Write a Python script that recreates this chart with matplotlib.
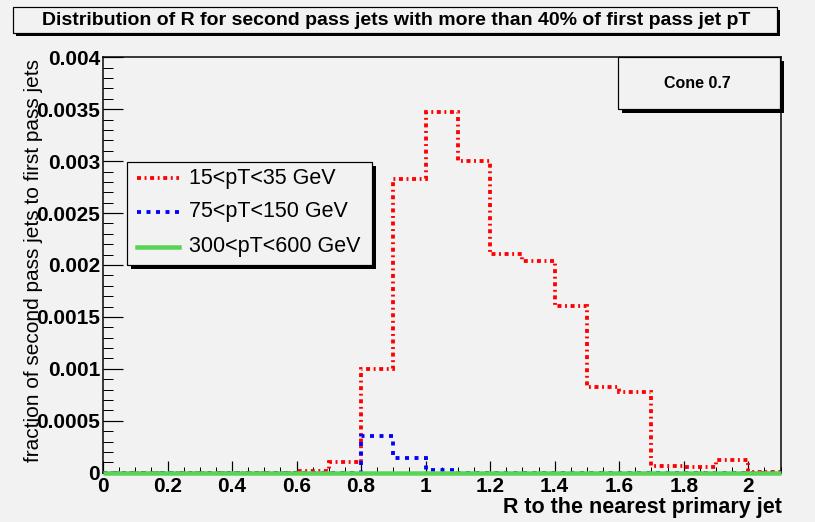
import numpy as np
import matplotlib
matplotlib.use("Agg")
import matplotlib.pyplot as plt
from matplotlib.patches import Rectangle
from matplotlib.lines import Line2D
from matplotlib.ticker import FixedLocator, MultipleLocator, FixedFormatter

# ---------------- data ----------------
bin_edges = np.round(np.arange(0, 2.1001, 0.1), 2)
red_vals = [0, 0, 0, 0, 0, 0, 0.00002, 0.0001, 0.001, 0.00283, 0.00347,
            0.0030, 0.00211, 0.00204, 0.00161, 0.00083, 0.00078, 0.000067,
            0.000052, 0.000122, 0.00001]
blue_vals = [0, 0, 0, 0, 0, 0, 0, 0, 0.00035, 0.000145, 0.00003,
             0, 0, 0, 0, 0, 0, 0, 0, 0, 0]
green_vals = [0] * 21
series_labels = ["15<pT<35 GeV", "75<pT<150 GeV", "300<pT<600 GeV"]
xtick_vals = [0, 0.2, 0.4, 0.6, 0.8, 1.0, 1.2, 1.4, 1.6, 1.8, 2.0]
xtick_labels = ["0", "0.2", "0.4", "0.6", "0.8", "1", "1.2", "1.4", "1.6", "1.8", "2"]
ytick_vals = [0, 0.0005, 0.001, 0.0015, 0.002, 0.0025, 0.003, 0.0035, 0.004]
ytick_labels = ["0", "0.0005", "0.001", "0.0015", "0.002", "0.0025", "0.003", "0.0035", "0.004"]
title = "Distribution of R for second pass jets with more than 40% of first pass jet pT"
xlabel = "R to the nearest primary jet"
ylabel = "fraction of second pass jets to first pass jets"
box_text = "Cone 0.7"

# ---------------- style ----------------
W, H = 815, 522
BG = "#f2f2f2"
RED = "#ff0000"
BLUE = "#0000ff"
GREEN = "#59d454"
FONT = ["Liberation Sans", "DejaVu Sans"]
plt.rcParams["font.family"] = FONT

fig = plt.figure(figsize=(W / 100, H / 100), dpi=100, facecolor=BG)

def fx(px):
    return px / W

def fy(py):
    return 1 - py / H

ax_l, ax_r, ax_t, ax_b = 103, 780.5, 57.3, 472.7
ax = fig.add_axes([fx(ax_l), fy(ax_b), fx(ax_r - ax_l), (ax_b - ax_t) / H])
ax.set_facecolor(BG)

px = 0.72  # one pixel in points
RED_STYLE = dict(color=RED, lw=3.8 * px, linestyle=(0, (1.05, 0.95, 0.5, 0.95)))
BLUE_STYLE = dict(color=BLUE, lw=3.8 * px, linestyle=(0, (1.05, 1.45)))
GREEN_STYLE = dict(color=GREEN, lw=4.5 * px, linestyle="-")

ax.stairs(red_vals, bin_edges, baseline=None, zorder=3, **RED_STYLE)
ax.stairs(blue_vals, bin_edges, baseline=None, zorder=4, **BLUE_STYLE)
ax.stairs(green_vals, bin_edges, baseline=None, zorder=5, clip_on=False,
          **GREEN_STYLE)

ax.set_xlim(0, 2.1)
ax.set_ylim(0, 0.004)

ax.xaxis.set_major_locator(FixedLocator(xtick_vals))
ax.xaxis.set_major_formatter(FixedFormatter(xtick_labels))
ax.xaxis.set_minor_locator(MultipleLocator(0.05))
ax.yaxis.set_major_locator(FixedLocator(ytick_vals))
ax.yaxis.set_major_formatter(FixedFormatter(ytick_labels))
ax.yaxis.set_minor_locator(MultipleLocator(0.0001))

ax.tick_params(axis="x", which="major", direction="in", length=12 * px,
               width=1.2 * px, pad=3, labelsize=15, top=False)
ax.tick_params(axis="x", which="minor", direction="in", length=6 * px,
               width=1 * px, top=False)
ax.tick_params(axis="y", which="major", direction="in", length=20 * px,
               width=1.2 * px, pad=2, labelsize=15, right=False)
ax.tick_params(axis="y", which="minor", direction="in", length=10 * px,
               width=1 * px, right=False)
for lab in ax.get_xticklabels() + ax.get_yticklabels():
    lab.set_fontweight("bold")

for s in ax.spines.values():
    s.set_linewidth(1.5 * px)
    s.set_color("black")

# axis titles
fig.text(fx(782), fy(507), xlabel, ha="right", va="center", fontsize=15.5,
         fontweight="bold")
fig.text(fx(34), fy(260), ylabel, ha="center", va="center", rotation=90,
         fontsize=15)

# ---------------- boxes with shadow ----------------
def shadow_box(x0, y0, x1, y1, sh=4):
    fig.patches.append(Rectangle((fx(x0 + sh), fy(y1 + sh)), fx(x1 - x0), (y1 - y0) / H,
                                 transform=fig.transFigure, facecolor="black",
                                 edgecolor="none", zorder=10))
    fig.patches.append(Rectangle((fx(x0), fy(y1)), fx(x1 - x0), (y1 - y0) / H,
                                 transform=fig.transFigure, facecolor=BG,
                                 edgecolor="black", lw=1.2 * px, zorder=11))

# title
shadow_box(12.7, 7.3, 776.7, 33, sh=3)
fig.text(fx(396), fy(20.5), title, ha="center", va="center", fontsize=14,
         fontweight="bold", zorder=12)

# cone box
shadow_box(618.3, 57.3, 780, 109.3, sh=4)
fig.text(fx(697.7), fy(83), box_text, ha="center", va="center", fontsize=11.5,
         fontweight="bold", zorder=12)

# legend
shadow_box(127.3, 161.7, 371.7, 265, sh=4)
rows = [178.3, 211.7, 246.7]
styles = [RED_STYLE, BLUE_STYLE, GREEN_STYLE]
for yrow, lab, st in zip(rows, series_labels, styles):
    fig.lines.append(Line2D([fx(137), fx(179)], [fy(yrow), fy(yrow)],
                            transform=fig.transFigure, zorder=12, **st))
    fig.text(fx(189), fy(yrow), lab, ha="left", va="center", fontsize=15.5,
             zorder=12)

fig.savefig("out.png", dpi=100, facecolor=BG)
